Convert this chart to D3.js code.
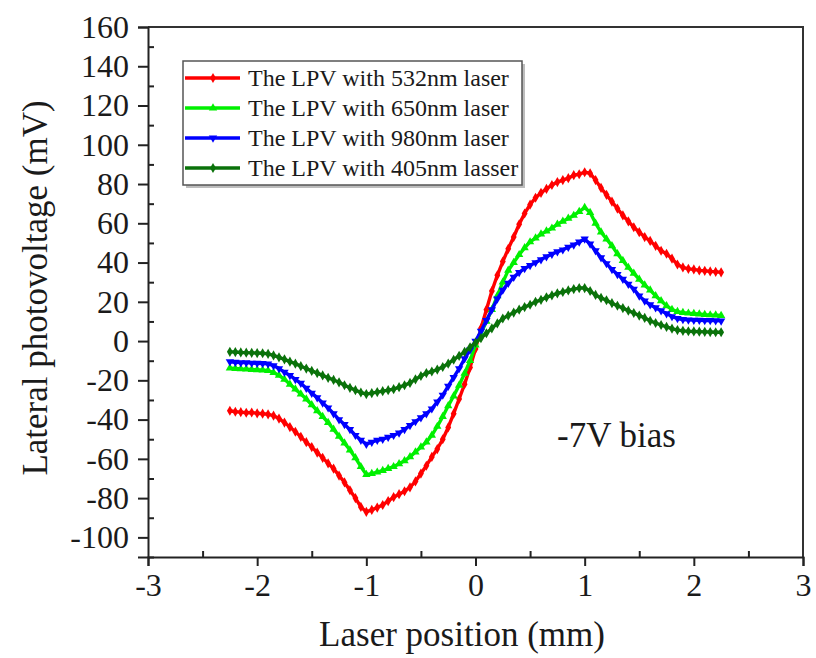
<!DOCTYPE html>
<html>
<head>
<meta charset="utf-8">
<script src="https://cdn.jsdelivr.net/npm/d3@7"></script>
<style>
  html, body { margin: 0; padding: 0; background: #fff; }
  svg { display: block; }
  text { font-family: "Liberation Serif", "Times New Roman", serif; fill: #1a1a1a; }
</style>
</head>
<body>
<svg id="chart" width="816" height="658"></svg>
<script>
// Laser positions (mm), sampled every 0.05 mm
const positions = [
  -2.25,-2.20,-2.15,-2.10,-2.05,-2.00,-1.95,-1.90,-1.85,-1.80,
  -1.75,-1.70,-1.65,-1.60,-1.55,-1.50,-1.45,-1.40,-1.35,-1.30,
  -1.25,-1.20,-1.15,-1.10,-1.05,-1.00,-0.95,-0.90,-0.85,-0.80,
  -0.75,-0.70,-0.65,-0.60,-0.55,-0.50,-0.45,-0.40,-0.35,-0.30,
  -0.25,-0.20,-0.15,-0.10,-0.05, 0.00, 0.05, 0.10, 0.15, 0.20,
   0.25, 0.30, 0.35, 0.40, 0.45, 0.50, 0.55, 0.60, 0.65, 0.70,
   0.75, 0.80, 0.85, 0.90, 0.95, 1.00, 1.05, 1.10, 1.15, 1.20,
   1.25, 1.30, 1.35, 1.40, 1.45, 1.50, 1.55, 1.60, 1.65, 1.70,
   1.75, 1.80, 1.85, 1.90, 1.95, 2.00, 2.05, 2.10, 2.15, 2.20,
   2.25
];

// Lateral photovoltage (mV) for each laser wavelength
const lpv532 = [
  -35.5,-36.0,-36.2,-36.5,-36.4,-36.8,-37.0,-37.3,-38.0,-39.5,
  -41.5,-43.8,-46.2,-48.8,-51.5,-54.0,-56.8,-59.5,-62.3,-65.0,
  -68.5,-72.0,-76.0,-80.0,-84.5,-87.0,-86.0,-84.8,-83.5,-81.5,
  -79.5,-78.0,-76.5,-74.5,-71.5,-67.5,-63.5,-59.0,-55.0,-50.0,
  -44.0,-37.0,-29.5,-22.0,-13.5, -4.0,  6.5, 16.0, 25.5, 33.5,
   40.5, 47.0, 53.0, 59.5, 65.0, 69.5, 73.0, 75.5, 77.5, 79.5,
   81.0, 82.0, 83.0, 84.5, 85.0, 86.0, 85.5, 82.0, 78.0, 74.5,
   71.0, 67.5, 64.0, 61.0, 58.0, 55.5, 53.0, 51.0, 48.5, 46.0,
   44.5, 42.0, 39.0, 37.5, 36.8, 36.5, 36.0, 35.8, 35.5, 35.3,
   35.0
];
const lpv650 = [
  -13.8,-14.0,-14.2,-14.3,-14.5,-14.6,-14.8,-15.0,-16.0,-17.5,
  -19.5,-22.0,-24.5,-27.0,-29.5,-32.5,-35.5,-38.5,-41.5,-45.0,
  -48.5,-52.0,-55.5,-59.5,-64.0,-68.0,-67.5,-66.8,-66.0,-65.0,
  -64.0,-62.5,-61.0,-59.0,-56.5,-54.0,-51.5,-48.0,-43.5,-38.5,
  -33.0,-28.0,-22.5,-16.5,-10.0, -2.0,  4.0, 10.0, 16.0, 23.0,
   30.0, 36.0, 40.0, 44.0, 47.5, 50.5, 52.5, 54.5, 56.0, 57.5,
   59.5, 61.0, 62.5, 64.0, 66.0, 68.0, 65.5, 60.0, 55.5, 52.0,
   48.5, 44.5, 41.0, 37.5, 34.5, 31.5, 28.5, 26.0, 23.0, 20.5,
   18.0, 16.0, 15.0, 14.5, 14.2, 14.0, 13.8, 13.5, 13.3, 13.2,
   13.0
];
const lpv980 = [
  -10.5,-10.8,-11.0,-11.0,-11.2,-11.3,-11.4,-11.6,-12.5,-14.0,
  -15.8,-17.5,-19.5,-21.5,-24.0,-26.5,-28.8,-31.5,-34.0,-37.0,
  -40.0,-42.5,-45.0,-48.0,-50.5,-52.5,-51.5,-50.5,-50.0,-49.0,
  -48.0,-46.8,-45.0,-43.0,-41.0,-39.0,-37.0,-34.5,-31.0,-27.5,
  -23.0,-18.5,-14.0, -9.0, -4.5,  0.0,  5.0, 10.5, 16.0, 21.5,
   26.0, 29.5, 32.5, 35.0, 37.0, 38.5, 40.0, 41.5, 43.0, 44.3,
   45.5, 46.5, 47.8, 49.0, 50.5, 52.0, 49.5, 46.0, 42.5, 39.5,
   36.5, 34.0, 31.5, 29.0, 26.5, 23.0, 20.5, 18.5, 17.0, 15.5,
   14.0, 12.5, 11.5, 11.0, 10.8, 10.7, 10.6, 10.5, 10.5, 10.4,
   10.3
];
const lpv405 = [
   -5.5, -5.6, -5.8, -5.9, -6.0, -6.1, -6.2, -6.5, -7.3, -8.3,
   -9.3,-10.5,-11.5,-12.8,-14.0,-15.2,-16.3,-17.5,-18.7,-19.8,
  -21.0,-22.5,-23.8,-25.0,-26.2,-27.0,-26.5,-26.0,-25.5,-25.0,
  -24.5,-23.5,-22.5,-21.3,-19.5,-17.8,-16.3,-15.5,-14.5,-13.2,
  -11.5, -9.5, -7.5, -5.5, -3.2, -0.8,  1.5,  4.0,  6.5,  9.0,
   11.5, 13.0, 14.5, 16.0, 17.3, 18.5, 20.0, 21.0, 22.3, 23.3,
   24.3, 25.0, 25.8, 26.5, 27.0, 27.0, 25.5, 23.5, 22.0, 20.8,
   19.3, 18.0, 16.8, 15.5, 14.3, 13.0, 11.8, 10.3,  9.2,  8.2,
    7.2,  6.3,  5.6,  5.2,  5.0,  4.9,  4.8,  4.7,  4.6,  4.5,
    4.5
];

const seriesNames = [
  "The LPV with 532nm laser",
  "The LPV with 650nm laser",
  "The LPV with 980nm laser",
  "The LPV with 405nm lasser"
];
const seriesValues = [lpv532, lpv650, lpv980, lpv405];
const seriesColors = ["#ff0000", "#00f000", "#0000ff", "#0a720a"];
const seriesSymbols = [d3.symbolDiamond, d3.symbolTriangle, d3.symbolTriangle, d3.symbolDiamond];
const seriesRotate = [0, 0, 180, 0];

const xTicks = [-3, -2, -1, 0, 1, 2, 3];
const xMinorTicks = [-2.5, -1.5, -0.5, 0.5, 1.5, 2.5];
const yTicks = [-100, -80, -60, -40, -20, 0, 20, 40, 60, 80, 100, 120, 140, 160];
const yMinorTicks = [-110, -90, -70, -50, -30, -10, 10, 30, 50, 70, 90, 110, 130, 150];

const xTitle = "Laser position (mm)";
const yTitle = "Lateral photovoltage (mV)";
const note = "-7V bias";

// ---- layout ----
const plot = { left: 148, right: 803, top: 27, bottom: 557 };
const svg = d3.select("#chart");

const x = d3.scaleLinear().domain([-3, 3]).range([plot.left, plot.right]);
const y = d3.scaleLinear().domain([-110, 160]).range([plot.bottom, plot.top]);

const axisColor = "#222";
const signed = d => d < 0 ? "-" + Math.abs(d) : String(d);

// frame: top and right sides
svg.append("path")
  .attr("d", `M${plot.left},${plot.top}H${plot.right}V${plot.bottom}`)
  .attr("fill", "none").attr("stroke", "#333").attr("stroke-width", 2);

function styleAxis(g) {
  g.selectAll(".domain").attr("stroke", axisColor).attr("stroke-width", 2);
  g.selectAll(".tick line").attr("stroke", axisColor).attr("stroke-width", 2);
  g.selectAll(".tick text")
    .style("font-family", "'Liberation Serif', 'Times New Roman', serif")
    .style("font-size", "32px").attr("fill", "#1a1a1a");
}

// bottom axis: major ticks outward with labels, minor ticks inward
svg.append("g").attr("transform", `translate(0,${plot.bottom})`)
  .call(d3.axisBottom(x).tickValues(xTicks).tickSize(9).tickPadding(7).tickFormat(signed))
  .call(styleAxis);
const gxMinor = svg.append("g").attr("transform", `translate(0,${plot.bottom})`)
  .call(d3.axisTop(x).tickValues(xMinorTicks).tickSize(6).tickFormat(() => ""))
  .call(styleAxis);
gxMinor.select(".domain").remove();

// left axis: major ticks outward with labels, minor ticks inward
svg.append("g").attr("transform", `translate(${plot.left},0)`)
  .call(d3.axisLeft(y).tickValues(yTicks).tickSize(10).tickPadding(9).tickFormat(signed))
  .call(styleAxis);
const gyMinor = svg.append("g").attr("transform", `translate(${plot.left},0)`)
  .call(d3.axisRight(y).tickValues(yMinorTicks).tickSize(6).tickFormat(() => ""))
  .call(styleAxis);
gyMinor.select(".domain").remove();

// axis titles
svg.append("text")
  .attr("x", 462).attr("y", 646)
  .attr("text-anchor", "middle")
  .style("font-size", "35px")
  .text(xTitle);
svg.append("text")
  .attr("transform", "translate(47,288) rotate(-90)")
  .attr("text-anchor", "middle")
  .style("font-size", "35px")
  .text(yTitle);

// series: connecting line plus a marker at every sample
const line = d3.line()
  .x((d, i) => x(positions[i]))
  .y(d => y(d));

seriesValues.forEach((vals, s) => {
  const g = svg.append("g");
  g.append("path")
    .datum(vals)
    .attr("d", line)
    .attr("fill", "none")
    .attr("stroke", seriesColors[s])
    .attr("stroke-width", 3.4)
    .attr("stroke-linejoin", "round");
  g.selectAll("path.pt")
    .data(vals)
    .join("path")
    .attr("class", "pt")
    .attr("d", d3.symbol().type(seriesSymbols[s]).size(30))
    .attr("transform", (d, i) => `translate(${x(positions[i])},${y(d)}) rotate(${seriesRotate[s]})`)
    .attr("fill", seriesColors[s]);
});

// legend
const legend = { x: 183, y: 61, w: 339, h: 124 };
svg.append("rect")
  .attr("x", legend.x + 3).attr("y", legend.y + 3)
  .attr("width", legend.w).attr("height", legend.h)
  .attr("fill", "#bdbdbd");
svg.append("rect")
  .attr("x", legend.x).attr("y", legend.y)
  .attr("width", legend.w).attr("height", legend.h)
  .attr("fill", "#fff").attr("stroke", "#555").attr("stroke-width", 1.5);

seriesNames.forEach((name, s) => {
  const ry = legend.y + 17 + s * 30;
  svg.append("line")
    .attr("x1", legend.x + 2).attr("x2", legend.x + 57)
    .attr("y1", ry).attr("y2", ry)
    .attr("stroke", seriesColors[s]).attr("stroke-width", 3.4);
  svg.append("path")
    .attr("d", d3.symbol().type(seriesSymbols[s]).size(30))
    .attr("transform", `translate(${legend.x + 30},${ry}) rotate(${seriesRotate[s]})`)
    .attr("fill", seriesColors[s]);
  svg.append("text")
    .attr("x", legend.x + 65).attr("y", ry + 8)
    .style("font-size", "24px")
    .text(name);
});

// bias annotation
svg.append("text")
  .attr("x", 557).attr("y", 447)
  .style("font-size", "35px")
  .text(note);
</script>
</body>
</html>
